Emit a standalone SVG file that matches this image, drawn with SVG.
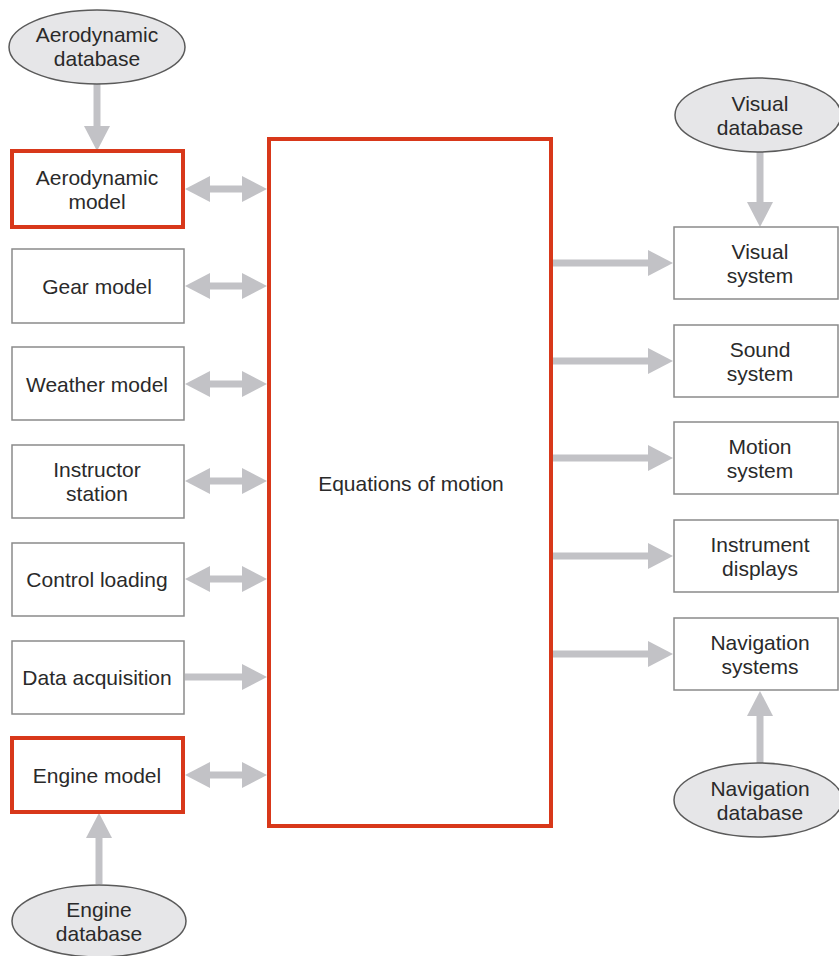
<svg xmlns="http://www.w3.org/2000/svg" width="839" height="956" viewBox="0 0 839 956">
  <style>
    text { font-family: "Liberation Sans", Arial, sans-serif; font-size: 21px; fill: #2a2a2a; text-anchor: middle; }
    .box { fill: #ffffff; stroke: #8a8a8a; stroke-width: 1.5; }
    .hot { fill: #ffffff; stroke: #d8381a; stroke-width: 4; }
    .db { fill: #e6e6e8; stroke: #5a5a5a; stroke-width: 1.5; }
    .link { stroke: #c2c2c6; stroke-width: 7; fill: none; }
  </style>
  <defs>
    <marker id="head" viewBox="0 0 25 26" refX="2" refY="13" markerWidth="25" markerHeight="26" markerUnits="userSpaceOnUse" orient="auto-start-reverse">
      <path d="M0,0 L25,13 L0,26 z" fill="#c2c2c6"/>
    </marker>
  </defs>

  <!-- connectors -->
  <g id="connectors" class="link">
    <!-- database feeds -->
    <line x1="97" y1="84" x2="97" y2="128" marker-end="url(#head)"/>
    <line x1="99" y1="884" x2="99" y2="836" marker-end="url(#head)"/>
    <line x1="760" y1="152" x2="760" y2="204" marker-end="url(#head)"/>
    <line x1="760" y1="763" x2="760" y2="714" marker-end="url(#head)"/>
    <!-- models exchanging with equations of motion -->
    <line x1="208" y1="189" x2="244" y2="189" marker-start="url(#head)" marker-end="url(#head)"/>
    <line x1="208" y1="286" x2="244" y2="286" marker-start="url(#head)" marker-end="url(#head)"/>
    <line x1="208" y1="384" x2="244" y2="384" marker-start="url(#head)" marker-end="url(#head)"/>
    <line x1="208" y1="481" x2="244" y2="481" marker-start="url(#head)" marker-end="url(#head)"/>
    <line x1="208" y1="579" x2="244" y2="579" marker-start="url(#head)" marker-end="url(#head)"/>
    <line x1="185" y1="677" x2="244" y2="677" marker-end="url(#head)"/>
    <line x1="208" y1="775" x2="244" y2="775" marker-start="url(#head)" marker-end="url(#head)"/>
    <!-- outputs -->
    <line x1="553" y1="263" x2="650" y2="263" marker-end="url(#head)"/>
    <line x1="553" y1="361" x2="650" y2="361" marker-end="url(#head)"/>
    <line x1="553" y1="458" x2="650" y2="458" marker-end="url(#head)"/>
    <line x1="553" y1="556" x2="650" y2="556" marker-end="url(#head)"/>
    <line x1="553" y1="654" x2="650" y2="654" marker-end="url(#head)"/>
  </g>

  <!-- databases -->
  <g id="aero-db">
    <ellipse class="db" cx="97" cy="47" rx="88" ry="37"/>
    <text x="97" y="42">Aerodynamic</text>
    <text x="97" y="66">database</text>
  </g>
  <g id="engine-db">
    <ellipse class="db" cx="99" cy="921" rx="87" ry="36"/>
    <text x="99" y="917">Engine</text>
    <text x="99" y="941">database</text>
  </g>
  <g id="visual-db">
    <ellipse class="db" cx="758" cy="115" rx="83" ry="37"/>
    <text x="760" y="111">Visual</text>
    <text x="760" y="135">database</text>
  </g>
  <g id="nav-db">
    <ellipse class="db" cx="758" cy="800" rx="84" ry="37"/>
    <text x="760" y="796">Navigation</text>
    <text x="760" y="820">database</text>
  </g>

  <!-- left column: models -->
  <g id="aero-model">
    <rect class="hot" x="12" y="151" width="171" height="76"/>
    <text x="97" y="185">Aerodynamic</text>
    <text x="97" y="209">model</text>
  </g>
  <g id="gear-model">
    <rect class="box" x="12" y="249" width="172" height="74"/>
    <text x="97" y="294">Gear model</text>
  </g>
  <g id="weather-model">
    <rect class="box" x="12" y="347" width="172" height="73"/>
    <text x="97" y="392">Weather model</text>
  </g>
  <g id="instructor-station">
    <rect class="box" x="12" y="445" width="172" height="73"/>
    <text x="97" y="477">Instructor</text>
    <text x="97" y="501">station</text>
  </g>
  <g id="control-loading">
    <rect class="box" x="12" y="543" width="172" height="73"/>
    <text x="97" y="587">Control loading</text>
  </g>
  <g id="data-acquisition">
    <rect class="box" x="12" y="641" width="172" height="73"/>
    <text x="97" y="685">Data acquisition</text>
  </g>
  <g id="engine-model">
    <rect class="hot" x="12" y="738" width="171" height="74"/>
    <text x="97" y="783">Engine model</text>
  </g>

  <!-- core -->
  <g id="equations-of-motion">
    <rect class="hot" x="269" y="139" width="282" height="687" stroke-width="3.5"/>
    <text x="411" y="491">Equations of motion</text>
  </g>

  <!-- right column: outputs -->
  <g id="visual-system">
    <rect class="box" x="674" y="227" width="164" height="72"/>
    <text x="760" y="259">Visual</text>
    <text x="760" y="283">system</text>
  </g>
  <g id="sound-system">
    <rect class="box" x="674" y="325" width="164" height="72"/>
    <text x="760" y="357">Sound</text>
    <text x="760" y="381">system</text>
  </g>
  <g id="motion-system">
    <rect class="box" x="674" y="422" width="164" height="72"/>
    <text x="760" y="454">Motion</text>
    <text x="760" y="478">system</text>
  </g>
  <g id="instrument-displays">
    <rect class="box" x="674" y="520" width="164" height="72"/>
    <text x="760" y="552">Instrument</text>
    <text x="760" y="576">displays</text>
  </g>
  <g id="navigation-systems">
    <rect class="box" x="674" y="618" width="164" height="72"/>
    <text x="760" y="650">Navigation</text>
    <text x="760" y="674">systems</text>
  </g>
</svg>
